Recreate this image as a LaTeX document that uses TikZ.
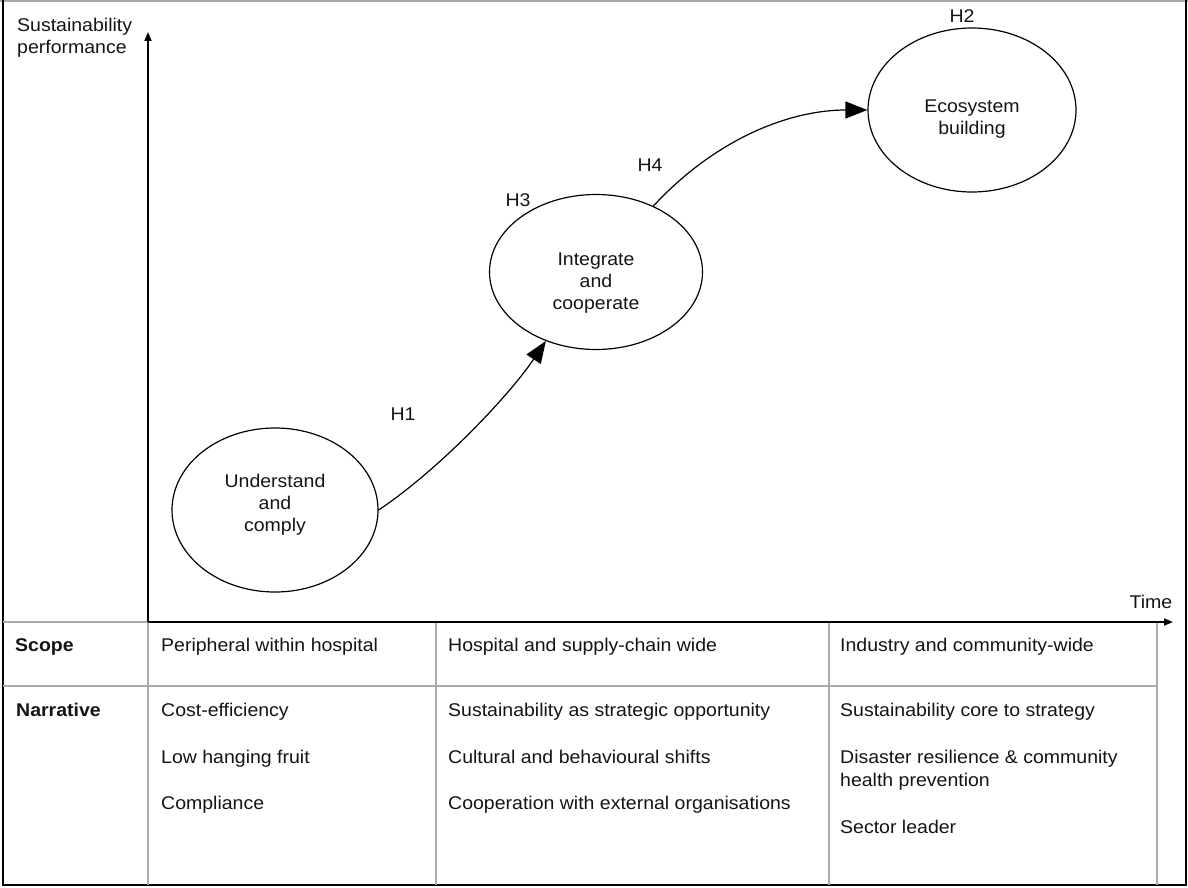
\documentclass[tikz,border=0pt]{standalone}
\usepackage{fontspec}
\setmainfont{Liberation Sans}[FakeStretch=1.06]
\usetikzlibrary{arrows.meta,shapes.geometric}
\definecolor{gridgray}{HTML}{AAAAAA}
\definecolor{txt}{HTML}{141414}
\tikzset{
  lbl/.style={font=\fontsize{18.4}{22}\selectfont, text=txt, inner sep=0pt},
  cell/.style={lbl, anchor=base west},
  hdr/.style={cell, font=\fontsize{18.4}{22}\selectfont\bfseries},
  stage/.style={draw=black, line width=1.2pt, ellipse, inner sep=0pt},
  stagetext/.style={lbl, align=center},
  bigarrow/.style={line width=1.2pt, -{Triangle[length=22pt,width=17pt]}},
  axis/.style={line width=1.8pt, -{Triangle[length=9pt,width=7pt]}},
  grid/.style={draw=gridgray, line width=1.3pt}
}
\begin{document}
\begin{tikzpicture}[x=1pt,y=-1pt]
\useasboundingbox (0,0) rectangle (1188,888);
% frame
\draw[gridgray, line width=1.5pt] (0,0.8) -- (1188,0.8);
\draw[black, line width=2pt] (3,0) -- (3,885) -- (1186,885) -- (1186,0);
% table grid
\draw[grid] (3,622) -- (148,622);
\draw[grid] (3,686) -- (1157,686);
\draw[grid] (148,622) -- (148,885);
\draw[grid] (436,622) -- (436,885);
\draw[grid] (829,622) -- (829,885);
\draw[grid] (1157,622) -- (1157,885);
% axes
\coordinate (origin) at (148,622);
\coordinate (ytip) at (148,32);
\coordinate (xtip) at (1173,622);
\draw[axis] (origin) -- (ytip);
\draw[axis] (origin) -- (xtip);
\node[lbl, anchor=west, align=left] (ylab) at (17,38) {Sustainability\\performance};
\node[lbl] (xlab) at (1151,602) {Time};
% stages
\node[stage, minimum width=206pt, minimum height=164pt] (u) at (275,510) {};
\node[stage, minimum width=213pt, minimum height=155pt] (i) at (596,272) {};
\node[stage, minimum width=208pt, minimum height=164pt] (e) at (972,110) {};
\node[stagetext] (ut) at (275,505) {Understand\\and\\comply};
\node[stagetext] (it) at (596,283) {Integrate\\and\\cooperate};
\node[stagetext] (et) at (972,119) {Ecosystem\\building};
% connectors
\draw[bigarrow] (u.east) .. controls +(60,-40) and +(-37,55) .. (i.234);
\draw[bigarrow] (i.49) .. controls +(62,-67) and +(-78,0) .. (e.west);
% hypothesis labels
\node[lbl] (h1) at (403,414) {H1};
\node[lbl] (h3) at (518,200) {H3};
\node[lbl] (h4) at (650,165) {H4};
\node[lbl] (h2) at (962,16) {H2};
% table text
\node[hdr] (scope) at (15,651) {Scope};
\node[hdr] (narr) at (16,716) {Narrative};
\node[cell] (s1) at (161,651) {Peripheral within hospital};
\node[cell] (s2) at (448,651) {Hospital and supply-chain wide};
\node[cell] (s3) at (840,651) {Industry and community-wide};
\node[cell] (n11) at (161,716) {Cost-efficiency};
\node[cell] (n12) at (161,763) {Low hanging fruit};
\node[cell] (n13) at (161,809) {Compliance};
\node[cell] (n21) at (448,716) {Sustainability as strategic opportunity};
\node[cell] (n22) at (448,763) {Cultural and behavioural shifts};
\node[cell] (n23) at (448,809) {Cooperation with external organisations};
\node[cell] (n31) at (840,716) {Sustainability core to strategy};
\node[cell] (n32) at (840,763) {Disaster resilience \& community};
\node[cell] (n33) at (840,786) {health prevention};
\node[cell] (n34) at (840,833) {Sector leader};
\end{tikzpicture}
\end{document}
